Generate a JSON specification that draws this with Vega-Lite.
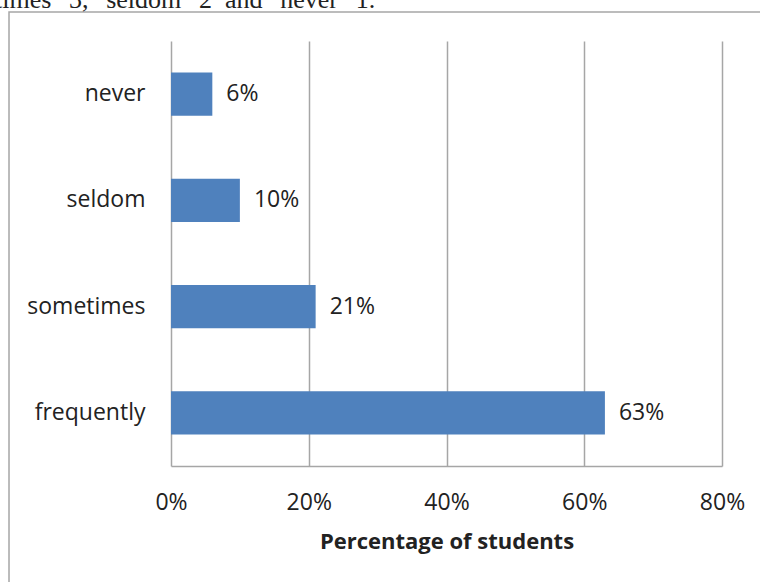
{
  "$schema": "https://vega.github.io/schema/vega-lite/v6.json",
  "width": 551,
  "height": 425,
  "autosize": {"type": "none"},
  "padding": {"left": 171, "top": 41, "right": 38, "bottom": 116},
  "background": "white",
  "config": {"view": {"stroke": null}, "font": "Open Sans", "axis": {"labelFont": "Open Sans", "titleFont": "Open Sans"}},
  "layer": [
    {
      "data": {"values": [{}]},
      "encoding": {
        "x": {"datum": -0.294, "type": "quantitative", "scale": {"domain": [0, 1], "nice": false}, "axis": null},
        "y": {"datum": 1.068, "type": "quantitative", "scale": {"domain": [0, 1], "nice": false}, "axis": null}
      },
      "layer": [
        {
          "mark": {"type": "rect", "fillOpacity": 0, "stroke": "#a6a6a6", "strokeWidth": 1.5, "clip": false},
          "encoding": {
            "x2": {"datum": 1.2},
            "y2": {"datum": -0.4}
          }
        },
        {
          "mark": {"type": "text", "align": "left", "baseline": "alphabetic", "font": "Liberation Serif", "fontSize": 26, "color": "#222222", "clip": false},
          "encoding": {
            "x": {"datum": -0.3194, "type": "quantitative"},
            "y": {"datum": 1.0776, "type": "quantitative"},
            "text": {"value": "times' \u00a03, \u00a0'seldom' \u00a02 \u00a0and \u00a0'never' \u00a01."}
          }
        }
      ]
    },
    {
      "data": {
        "values": [
          {"response": "never", "pct": 0.06},
          {"response": "seldom", "pct": 0.10},
          {"response": "sometimes", "pct": 0.21},
          {"response": "frequently", "pct": 0.63}
        ]
      },
      "encoding": {
        "y": {
          "field": "response",
          "type": "nominal",
          "sort": ["never", "seldom", "sometimes", "frequently"],
          "scale": {"paddingInner": 0.595, "paddingOuter": 0.2975},
          "axis": {
            "title": null,
            "domain": false,
            "ticks": false,
            "grid": false,
            "labelPadding": 26,
            "labelFont": "Open Sans",
            "labelFontSize": 23,
            "labelColor": "#222222"
          }
        },
        "x": {
          "field": "pct",
          "type": "quantitative",
          "scale": {"domain": [0, 0.8], "nice": false},
          "axis": {
            "values": [0, 0.2, 0.4, 0.6, 0.8],
            "format": ".0%",
            "ticks": false,
            "grid": true,
            "gridColor": "#a6a6a6",
            "gridWidth": 1.5,
            "domainColor": "#a6a6a6",
            "domainWidth": 1.5,
            "labelFlush": false,
            "labelOverlap": false,
            "labelFont": "Open Sans",
            "labelFontSize": 23,
            "labelPadding": 25,
            "labelColor": "#222222",
            "title": "Percentage of students",
            "titleFont": "Open Sans",
            "titleFontSize": 22,
            "titleFontWeight": "bold",
            "titleColor": "#222222",
            "titlePadding": 17
          }
        }
      },
      "layer": [
        {"mark": {"type": "bar", "color": "#4f81bd"}},
        {
          "mark": {"type": "text", "align": "left", "baseline": "middle", "dx": 14, "font": "Open Sans", "fontSize": 23, "color": "#222222"},
          "encoding": {"text": {"field": "pct", "type": "quantitative", "format": ".0%"}}
        }
      ]
    }
  ],
  "resolve": {"scale": {"x": "independent", "y": "independent"}}
}
